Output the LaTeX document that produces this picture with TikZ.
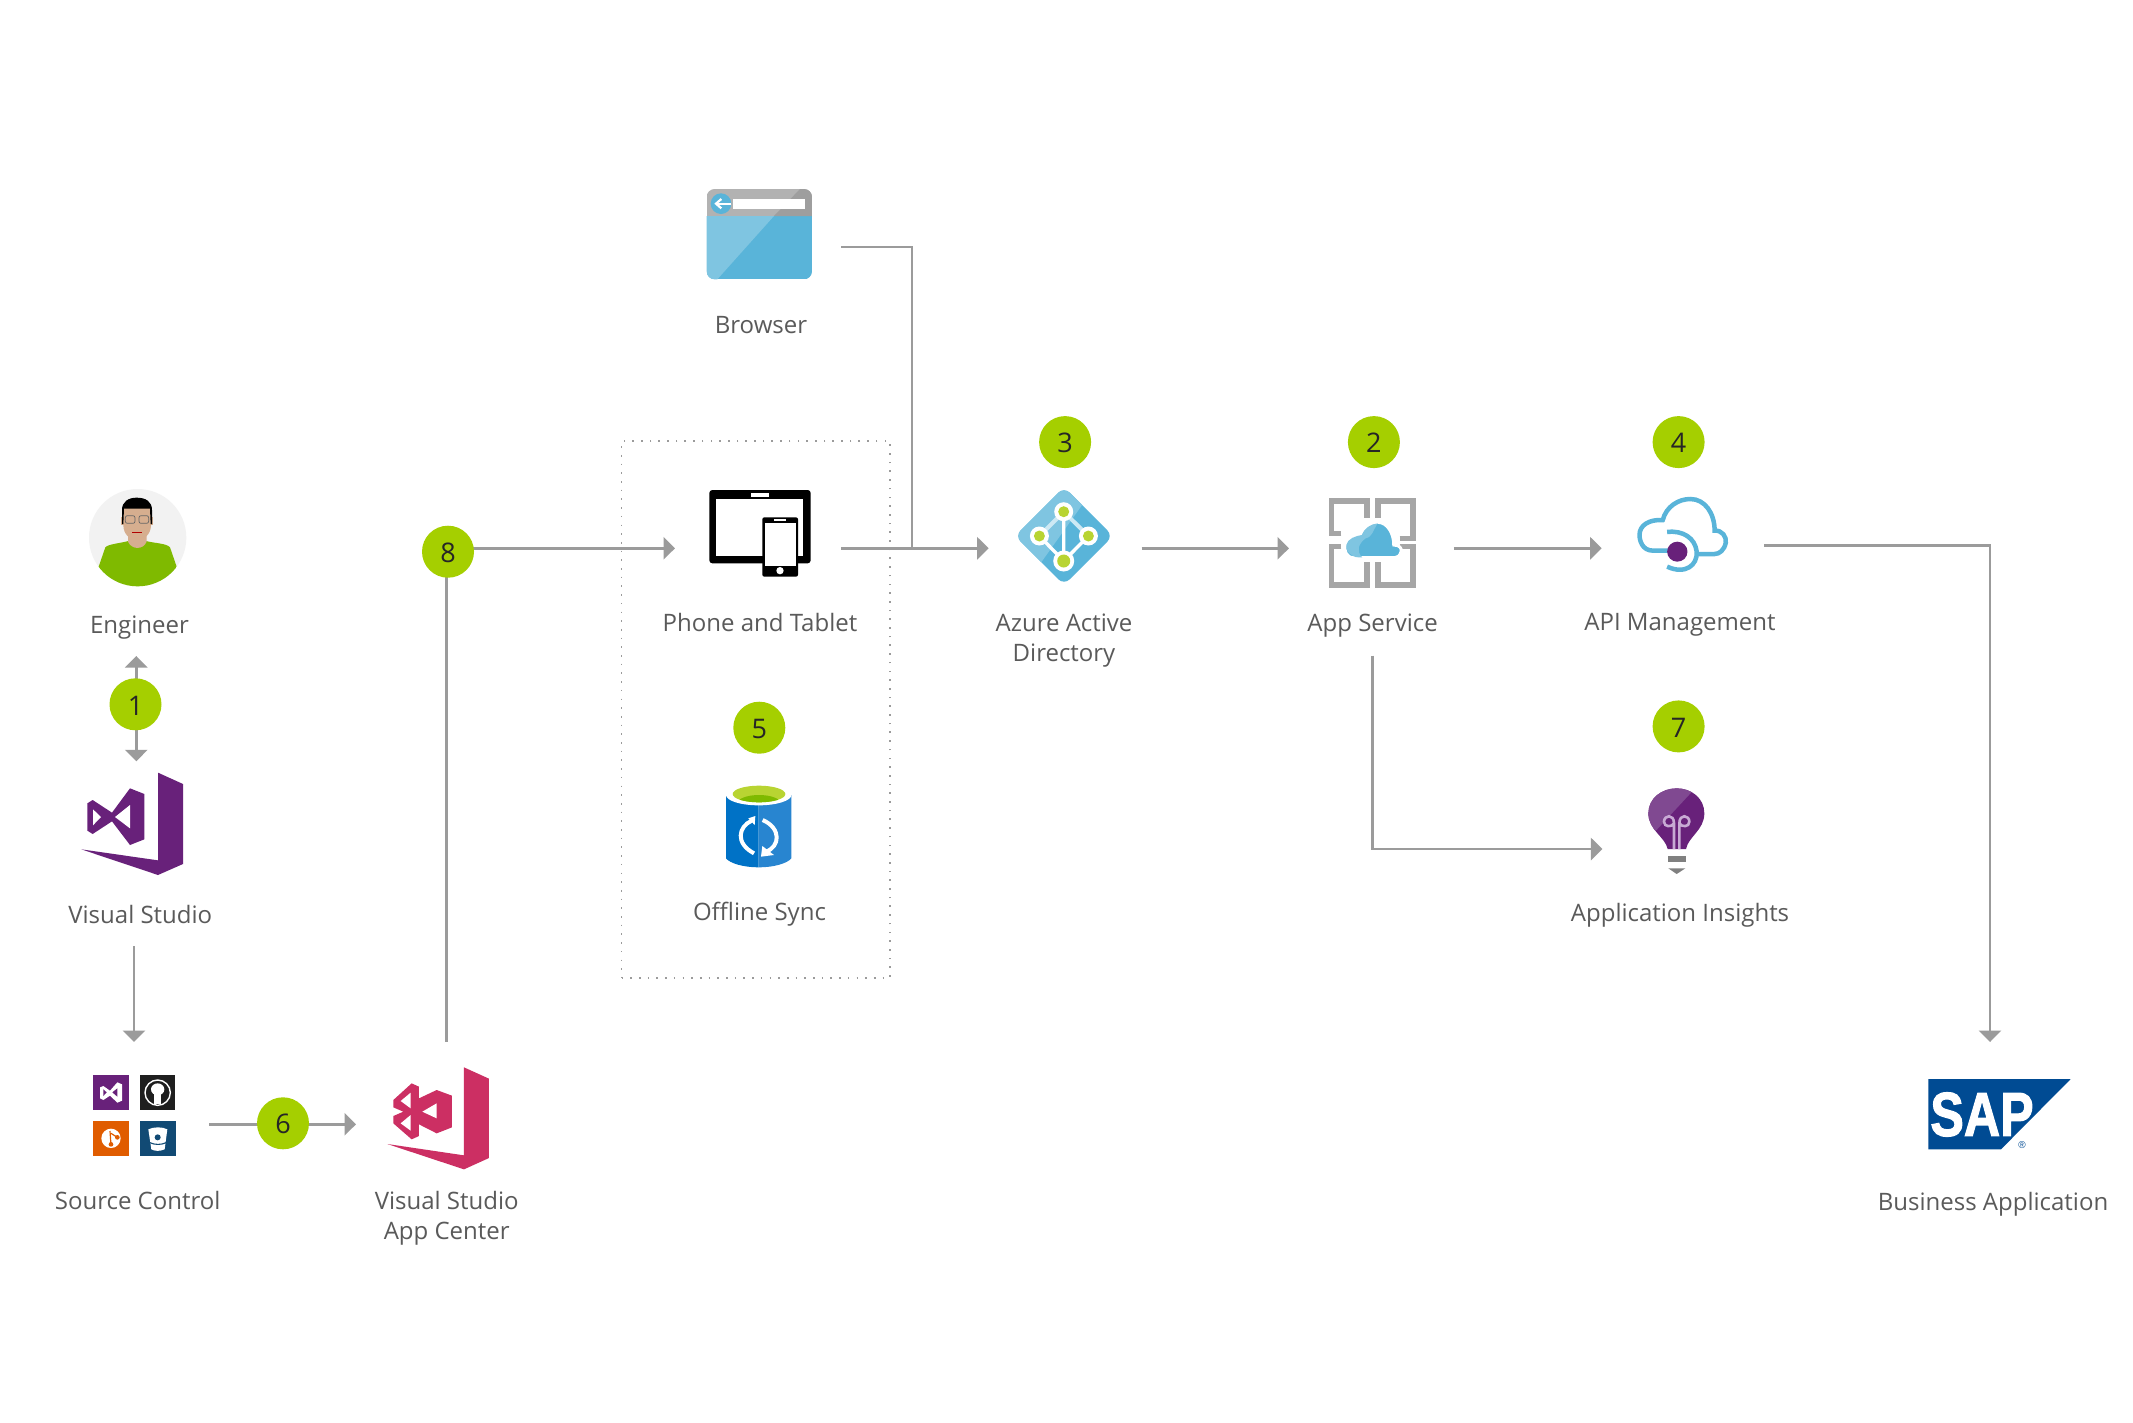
\documentclass[tikz,border=0pt]{standalone}
\usepackage{fontspec}
\setmainfont{Open Sans}
\newfontfamily\logofont[BoldFeatures={FakeBold=2}]{Liberation Sans}
\usetikzlibrary{arrows.meta}
\definecolor{linegray}{HTML}{9B9B9B}
\definecolor{badgegreen}{HTML}{A5CF00}
\definecolor{captiongray}{HTML}{5A5A5A}
\definecolor{azblue}{HTML}{59B4D9}
\definecolor{azlight}{HTML}{7FC5E1}
\definecolor{vspurple}{HTML}{68217A}
\definecolor{acpink}{HTML}{CC2F63}
\definecolor{iconlime}{HTML}{B8D432}
\definecolor{shirtgreen}{HTML}{7FBA00}
\definecolor{skintone}{HTML}{D6AE8F}
\definecolor{gitorange}{HTML}{E05C00}
\definecolor{bucketnavy}{HTML}{114A74}
\definecolor{syncdark}{HTML}{0072C6}
\definecolor{synclight}{HTML}{2885D0}
\definecolor{bulblight}{HTML}{804991}
\definecolor{filament}{HTML}{C8AAD4}
\definecolor{sapblue}{HTML}{004B93}
\tikzstyle{link} = [draw=linegray, line width=2.7pt]
\tikzstyle{flow} = [link, -{Triangle[length=11.5pt,width=22pt]}]
\tikzstyle{badge} = [circle, fill=badgegreen, minimum size=52pt, inner sep=0pt, text=black!85, text height=21.5pt, font=\fontsize{27}{27}\selectfont]
\tikzstyle{caption} = [align=center, text=captiongray, inner sep=0pt, font=\fontsize{24}{30}\selectfont]
\tikzstyle{syncbox} = [draw=linegray, line width=1.6pt, dash pattern=on 1.6pt off 7.1pt, minimum width=268.3pt, minimum height=537pt, inner sep=0pt]

\begin{document}
\begin{tikzpicture}[x=1pt,y=-1pt]
\path[use as bounding box, fill=white] (0,0) rectangle (2133,1422);

% connector ends
\coordinate (engtip) at (136.3,656);
\coordinate (vstip) at (136.3,761.3);
\coordinate (mid1) at (136.3,704);
\coordinate (vsout) at (134,946);
\coordinate (srctip) at (134,1042);
\coordinate (srcout) at (209,1124.3);
\coordinate (actip) at (356,1124.3);
\coordinate (acout) at (446.3,1041.7);
\coordinate (mid8) at (446.3,548.3);
\coordinate (phonetip) at (675,548.3);
\coordinate (phoneout) at (841.3,548.3);
\coordinate (brwsout) at (841.3,247);
\coordinate (brwsjoin) at (912,548.3);
\coordinate (aadtip) at (988.7,548.3);
\coordinate (aadout) at (1141.7,548.3);
\coordinate (apptip) at (1289,548.3);
\coordinate (appout) at (1453.9,548.3);
\coordinate (apitip) at (1601.7,548.3);
\coordinate (appdown) at (1372.2,655.6);
\coordinate (instip) at (1602.4,849);
\coordinate (apiout) at (1764.3,545.5);
\coordinate (saptip) at (1990,1042);

\node (offline) at (755.8,709.5) [syncbox] {};

\draw[flow] (mid1) -- (engtip);
\draw[flow] (mid1) -- (vstip);
\draw[flow] (vsout) -- (srctip);
\draw[flow] (srcout) -- (actip);
\draw[link] (acout) -- (mid8);
\draw[flow] (mid8) -- (phonetip);
\draw[flow] (phoneout) -- (aadtip);
\draw[link] (brwsout) -| (brwsjoin);
\draw[flow] (aadout) -- (apptip);
\draw[flow] (appout) -- (apitip);
\draw[flow] (appdown) |- (instip);
\draw[flow] (apiout) -| (saptip);

\node (b1) at (135.5,704.3) [badge] {1};
\node (b2) at (1373.9,442.1) [badge] {2};
\node (b3) at (1065.1,442.1) [badge] {3};
\node (b4) at (1678.6,442.1) [badge] {4};
\node (b5) at (759.3,727.7) [badge] {5};
\node (b6) at (283,1123.3) [badge] {6};
\node (b7) at (1678.6,726.4) [badge] {7};
\node (b8) at (448,551.7) [badge] {8};

\node (lengineer) at (139.5,628) [caption] {Engineer};
\node (lvs) at (140.3,914) [caption] {Visual Studio};
\node (lsrc) at (137.7,1200) [caption] {Source Control};
\node (lac) at (446.7,1218.5) [caption] {Visual Studio\\App Center};
\node (lbrws) at (761,325) [caption] {Browser};
\node (lphone) at (760,622) [caption] {Phone and Tablet};
\node (lsync) at (759.5,914.5) [caption] {Offline Sync};
\node (laad) at (1064,640.5) [caption] {Azure Active\\Directory};
\node (lapp) at (1372.6,626) [caption] {App Service};
\node (lapi) at (1680,625) [caption] {API Management};
\node (lins) at (1680,915) [caption] {Application Insights};
\node (lsap) at (1993,1204) [caption] {Business Application};

% engineer
\begin{scope}[shift={(40,460)},scale=1/3]
\fill[black!5] (293,233) circle (146);
\begin{scope}
\clip (293,233) circle (146);
\fill[shirtgreen] (176,320) -- (196,262) .. controls (205,252) and (240,250) .. (265,243) -- (318,243) .. controls (345,250) and (380,250) .. (390,262) -- (410,320) -- (410,400) -- (176,400) -- cycle;
\end{scope}
\fill[skintone] (264,220) -- (264,245) .. controls (275,270) and (310,270) .. (320,245) -- (320,220) -- cycle;
\fill[skintone] (243,170) rectangle (340,195);
\fill[skintone] (250,140) -- (333,140) -- (333,195) .. controls (333,225) and (310,240) .. (291,240) .. controls (272,240) and (250,225) .. (250,195) -- cycle;
\fill[black] (246,192) -- (246,150) .. controls (246,125) and (265,113) .. (290,113) .. controls (318,113) and (336,125) .. (336,150) -- (336,192) -- (332,192) -- (330,146) -- (252,146) -- (250,192) -- cycle;
\draw[black!60, line width=0.7pt, rounded corners=2] (256,167) rectangle (285,190);
\draw[black!60, line width=0.7pt, rounded corners=2] (297,167) rectangle (326,190);
\draw[red!70!black, line width=0.9pt] (277,216) -- (305,216);
\end{scope}

% visual studio
\begin{scope}[shift={(40,460)},scale=1/3]
\fill[vspurple] (354,938) -- (429,972) -- (429,1212) -- (354,1245) -- (124,1168) -- (354,1201) -- cycle;
\fill[vspurple] (158,1020) -- (216,1058) -- (270,985) -- (313,1002) -- (313,1138) -- (270,1155) -- (216,1084) -- (158,1122) -- (142,1112) -- (142,1030) -- cycle;
\fill[white] (159,1048) -- (183,1071) -- (159,1096) -- cycle;
\fill[white] (270,1035) -- (225,1071) -- (270,1105) -- cycle;
\end{scope}

% source control and app center
\begin{scope}[shift={(40,1030)},scale=1/3]
\fill[vspurple] (160,136) rectangle (266,240);
\fill[white] (232,157) -- (246,163) -- (246,212) -- (232,218) -- (210,197) -- (190,210) -- (180,205) -- (180,172) -- (190,168) -- (210,182) -- cycle;
\fill[vspurple] (232,175) -- (217,187) -- (232,200) -- cycle;
\fill[vspurple] (190,178) -- (200,187) -- (190,198) -- cycle;
\fill[black!88] (301,136) rectangle (405,240);
\draw[white, line width=1.4pt] (353,188) circle (38);
\fill[white] (353,178) ellipse (20 and 18);
\fill[white] (342,190) rectangle (364,222);
\fill[gitorange] (160,273) rectangle (266,378);
\fill[white] (213,325) circle (29);
\draw[gitorange, line width=1.2pt] (210,303) -- (213,345) (213,310) -- (232,322);
\fill[gitorange] (213,343) circle (7) (232,322) circle (7);
\fill[bucketnavy] (301,273) rectangle (408,378);
\fill[white] (325,298) .. controls (340,290) and (368,290) .. (382,298) -- (374,358) .. controls (360,364) and (345,364) .. (334,358) -- cycle;
\draw[bucketnavy, line width=1.1pt] (330,338) .. controls (345,345) and (363,345) .. (378,338);
\fill[bucketnavy] (353,322) circle (9);

\fill[acpink] (1272,112) -- (1347,146) -- (1347,384) -- (1272,418) -- (1042,342) -- (1272,376) -- cycle;
\fill[acpink] (1115,160) -- (1137,170) -- (1137,205) -- (1190,180) -- (1236,197) -- (1236,292) -- (1190,310) -- (1137,283) -- (1137,318) -- (1115,328) -- (1060,280) -- (1060,258) -- (1090,245) -- (1060,232) -- (1060,210) -- cycle;
\fill[white] (1082,213) -- (1112,188) -- (1112,235) -- cycle;
\fill[white] (1082,280) -- (1112,255) -- (1112,302) -- cycle;
\fill[white] (1190,220) -- (1147,245) -- (1190,265) -- cycle;
\end{scope}

% browser
\begin{scope}[shift={(680,170)},scale=1/3]
\begin{scope}
\clip[rounded corners=8pt] (80,57) rectangle (396,328);
\fill[azblue] (80,138) rectangle (396,328);
\fill[azlight] (80,138) -- (282,138) -- (112,328) -- (80,328) -- cycle;
\fill[black!30] (80,57) rectangle (396,138);
\fill[black!38] (282,138) -- (360,57) -- (396,57) -- (396,138) -- cycle;
\end{scope}
\fill[white] (160,88) rectangle (376,116);
\fill[azblue] (123,101) circle (31);
\draw[white, line width=2.2pt] (154,101) -- (112,101);
\draw[white, line width=2.2pt] (124,87) -- (108,101) -- (124,115);
\end{scope}

% phone and tablet, offline sync
\begin{scope}[shift={(680,470)},scale=1/3]
\fill[black, rounded corners=3pt] (88,60) rectangle (392,280);
\fill[white] (108,87) rectangle (370,258);
\fill[white] (214,70) rectangle (266,80);
\fill[black, rounded corners=2pt] (247,142) rectangle (354,320);
\fill[white] (254,158) rectangle (348,288);
\fill[white] (283,148) rectangle (318,153);
\fill[white] (300,302) circle (11);

\fill[syncdark] (138,975) -- (138,1165) .. controls (150,1180) and (190,1192) .. (236,1192) -- (236,975) -- cycle;
\fill[synclight] (334,975) -- (334,1165) .. controls (322,1180) and (282,1192) .. (236,1192) -- (236,975) -- cycle;
\fill[white] (236,975) ellipse (98 and 31);
\begin{scope}
\clip (237,972) ellipse (79 and 25);
\fill[iconlime] (150,940) rectangle (330,1000);
\fill[shirtgreen] (237,1000) ellipse (65 and 25);
\end{scope}
\draw[white, line width=4pt] (215,1052) .. controls (175,1070) and (165,1120) .. (222,1150);
\draw[white, line width=4pt] (248,1050) .. controls (305,1075) and (300,1130) .. (258,1145);
\fill[white] (205,1045) -- (226,1038) -- (224,1065) -- cycle;
\fill[white] (243,1160) -- (247,1128) -- (282,1155) -- cycle;
\end{scope}

% azure active directory
\begin{scope}
\fill[azblue, rounded corners=8pt] (1064,487) -- (1113,536) -- (1064,585) -- (1015,536) -- cycle;
\begin{scope}
\clip[rounded corners=8pt] (1064,487) -- (1113,536) -- (1064,585) -- (1015,536) -- cycle;
\fill[azlight] (1010,480) -- (1100,480) -- (1025,585) -- (1010,585) -- cycle;
\end{scope}
\draw[white!70!azblue, line width=4pt] (1039.4,536) -- (1063.7,511.7) -- (1088.4,536);
\draw[white, line width=3.4pt] (1039.4,536) -- (1063.7,561) -- (1088.4,536) (1063.7,511.7) -- (1063.7,561);
\foreach \nx/\ny/\nr in {1063.7/511.7/5.5,1039.4/536/5.5,1088.4/536/5.5,1063.7/561/6.5} {
\fill[white] (\nx,\ny) circle (\nr+4);
\fill[iconlime] (\nx,\ny) circle (\nr);
}
\end{scope}

% app service, api management
\begin{scope}[shift={(990,480)},xscale=1/2.063,yscale=1/3]
\draw[black!35, line width=5.5pt] (725,160) -- (705,160) -- (705,63) -- (778,63) -- (778,115);
\draw[black!35, line width=5.5pt] (845,175) -- (873,175) -- (873,63) -- (800,63) -- (800,115);
\draw[black!35, line width=5.5pt] (725,200) -- (705,200) -- (705,315) -- (778,315) -- (778,245);
\draw[black!35, line width=5.5pt] (845,200) -- (873,200) -- (873,315) -- (800,315) -- (800,245);
\fill[azblue, draw=white, line width=3pt] (750,233) .. controls (735,233) and (730,210) .. (733,195) .. controls (736,175) and (755,165) .. (765,163) .. controls (770,140) and (790,127) .. (800,127) .. controls (820,127) and (833,160) .. (833,195) .. controls (845,195) and (850,205) .. (848,215) .. controls (846,228) and (840,233) .. (835,233) -- cycle;
\fill[azlight] (760,232) .. controls (745,232) and (732,210) .. (735,195) .. controls (738,175) and (755,168) .. (767,165) .. controls (772,145) and (785,132) .. (800,130) .. controls (790,150) and (790,170) .. (775,175) .. controls (760,190) and (755,215) .. (768,232) -- cycle;

\draw[azblue, line width=4.5pt] (1400,212) -- (1368,212) .. controls (1345,212) and (1340,180) .. (1340,165) .. controls (1340,135) and (1360,118) .. (1388,120) .. controls (1395,80) and (1420,57) .. (1445,57) .. controls (1475,57) and (1495,100) .. (1495,152) .. controls (1510,150) and (1520,170) .. (1518,188) .. controls (1515,210) and (1505,222) .. (1495,222) -- (1460,222);
\draw[azblue, line width=4.5pt] (1397,156) .. controls (1430,150) and (1455,175) .. (1458,215) .. controls (1460,255) and (1435,285) .. (1397,260);
\fill[vspurple] (1418,215) ellipse (21 and 30);
\end{scope}

% application insights
\begin{scope}[shift={(1600,770)},scale=1/3]
\fill[vspurple] (203,237) .. controls (195,200) and (145,180) .. (145,130) .. controls (145,85) and (185,55) .. (230,55) .. controls (275,55) and (313,85) .. (313,130) .. controls (313,180) and (265,200) .. (258,237) -- cycle;
\begin{scope}
\clip (203,237) .. controls (195,200) and (145,180) .. (145,130) .. controls (145,85) and (185,55) .. (230,55) .. controls (275,55) and (313,85) .. (313,130) .. controls (313,180) and (265,200) .. (258,237) -- cycle;
\fill[bulblight] (140,50) -- (290,50) -- (165,185) -- (140,185) -- cycle;
\end{scope}
\draw[filament, line width=2.6pt] (222,237) -- (222,160) .. controls (222,130) and (192,135) .. (192,155) .. controls (192,172) and (215,172) .. (222,160);
\draw[filament, line width=2.6pt] (238,237) -- (238,160) .. controls (238,130) and (268,135) .. (268,155) .. controls (268,172) and (245,172) .. (238,160);
\fill[black!50] (203,258) rectangle (258,275);
\fill[black!50] (205,295) -- (256,295) -- (230,312) -- cycle;
\end{scope}

% sap
\fill[sapblue] (1928.3,1079) -- (2070.7,1079) -- (2001,1149.3) -- (1928.3,1149.3) -- cycle;
\node (saptext) at (1982,1114.5) [transform shape, xscale=0.81, text=white, inner sep=0pt, font=\logofont\fontsize{62}{62}\selectfont\bfseries] {SAP};
\node (sapreg) at (2022,1145.5) [text=sapblue, inner sep=0pt, font=\logofont\fontsize{10}{10}\selectfont] {®};

\end{tikzpicture}
\end{document}
